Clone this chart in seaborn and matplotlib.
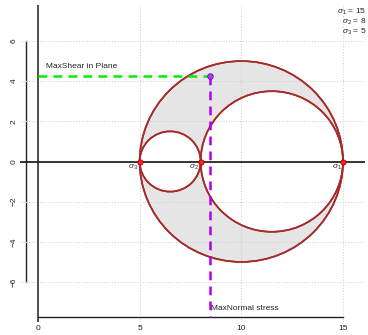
import numpy as np
import pandas as pd
import matplotlib
matplotlib.use("Agg")
import matplotlib.pyplot as plt
from matplotlib.patches import Circle
import seaborn as sns

# Principal stresses
stress_names = ["σ1", "σ2", "σ3"]
stress_values = [15, 8, 5]
stress_subs = ["1", "2", "3"]

# Point of maximum shear in the plane (normal, shear)
max_point_normal = [8.47]
max_point_shear = [4.27]

x_ticks = [0, 5, 10, 15]
y_ticks = [-6, -4, -2, 0, 2, 4, 6]

sns.set_style("white")
plt.rcParams["font.family"] = ["Liberation Sans", "DejaVu Sans"]
plt.rcParams["mathtext.fontset"] = "custom"
plt.rcParams["mathtext.rm"] = "Liberation Sans"
plt.rcParams["mathtext.it"] = "Liberation Sans:italic"

W, H = 368, 335
fig = plt.figure(figsize=(W / 100, H / 100), dpi=100)
ax = fig.add_axes([20 / W, 1 - 322 / H, 345 / W, 317 / H])

xs = 305 / 15.0   # px per unit
ys = 241 / 12.0
ax.set_xlim((20 - 38) / xs, (365 - 38) / xs)
ax.set_ylim((161.5 - 322) / ys, (161.5 - 5) / ys)

s1, s2, s3 = stress_values
edge = "#a52a2a"

# Mohr circles: outer shaded, inner two blank
outer = Circle(((s1 + s3) / 2, 0), (s1 - s3) / 2, facecolor="#e5e5e5",
               edgecolor=edge, lw=1.2, zorder=1)
c23 = Circle(((s2 + s3) / 2, 0), (s2 - s3) / 2, facecolor="white",
             edgecolor=edge, lw=1.2, zorder=2)
c12 = Circle(((s1 + s2) / 2, 0), (s1 - s2) / 2, facecolor="white",
             edgecolor=edge, lw=1.2, zorder=2)
for c in (outer, c23, c12):
    ax.add_patch(c)

# dotted grid over the fills
for gx in x_ticks:
    ax.axvline(gx, color="#d3d3d3", lw=0.8, ls=(0, (1, 1.5)), zorder=3)
for gy in y_ticks:
    ax.axhline(gy, color="#d3d3d3", lw=0.8, ls=(0, (1, 1.5)), zorder=3)

# redraw circle outlines above grid
for c in (outer, c23, c12):
    cc = Circle(c.center, c.radius, fill=False, edgecolor=edge, lw=1.2, zorder=4)
    ax.add_patch(cc)

ax.axhline(0, color="black", lw=1.1, zorder=5)
ax.axvline(0, color="#222222", lw=1.1, zorder=5)

# principal stress points
df = pd.DataFrame({"sigma": stress_values, "tau": [0, 0, 0]})
sns.scatterplot(data=df, x="sigma", y="tau", ax=ax, s=14, color="#ff2020",
                edgecolor="#b00000", linewidth=0.6, zorder=6, legend=False)
for v, sub in zip(stress_values, stress_subs):
    ax.annotate(r"$\sigma_{%s}$" % sub, (v, 0), xytext=(-1, -1),
                textcoords="offset points", ha="right", va="top",
                fontsize=6, color="#333333", zorder=6)

# max shear guide lines
mx, my = max_point_normal[0], max_point_shear[0]
ybot = (161.5 - 317) / ys
ax.plot([0, mx], [my, my], color="#00ee00", lw=1.8, ls=(0, (3.5, 2.5)), zorder=6)
ax.plot([mx, mx], [my, ybot], color="#b000f0", lw=1.8, ls=(0, (3.5, 2.5)), zorder=6)
mp = pd.DataFrame({"n": max_point_normal, "t": max_point_shear})
sns.scatterplot(data=mp, x="n", y="t", ax=ax, s=16, color="#b040ff",
                edgecolor="#7000c0", linewidth=0.6, zorder=7, legend=False)

ax.text(0.4, my + 0.3, "MaxShear in Plane", fontsize=6, ha="left", va="bottom",
        color="#222222", zorder=7)
ax.text(mx + 0.05, ybot + 0.25, "MaxNormal stress", fontsize=6, ha="left",
        va="bottom", color="#222222", zorder=7)

# stress summary in the corner
for i, (sub, v) in enumerate(zip(stress_subs, stress_values)):
    fig.text(366 / W, 1 - (12 + 10 * i) / H, r"$\sigma_{%s}$ = %d" % (sub, v),
             fontsize=6, ha="right", va="center", color="#222222")

# axes in base-graphics style
for side in ("top", "right"):
    ax.spines[side].set_visible(False)
ax.spines["left"].set_position(("data", (26 - 38) / xs))
ax.spines["left"].set_bounds(-6, 6)
ax.spines["bottom"].set_position(("data", ybot))
ax.spines["bottom"].set_bounds(0, 15)
for side in ("left", "bottom"):
    ax.spines[side].set_color("#222222")
    ax.spines[side].set_linewidth(1.0)
ax.set_xticks(x_ticks)
ax.set_yticks(y_ticks)
ax.tick_params(axis="both", direction="out", length=3.5, width=0.8,
               labelsize=6, colors="#222222", pad=2.5)
ax.tick_params(axis="y", labelrotation=90)
for lab in ax.get_yticklabels():
    lab.set_va("center")
ax.set_xlabel("")
ax.set_ylabel("")
ax.grid(False)

fig.savefig("out.png", dpi=100)
